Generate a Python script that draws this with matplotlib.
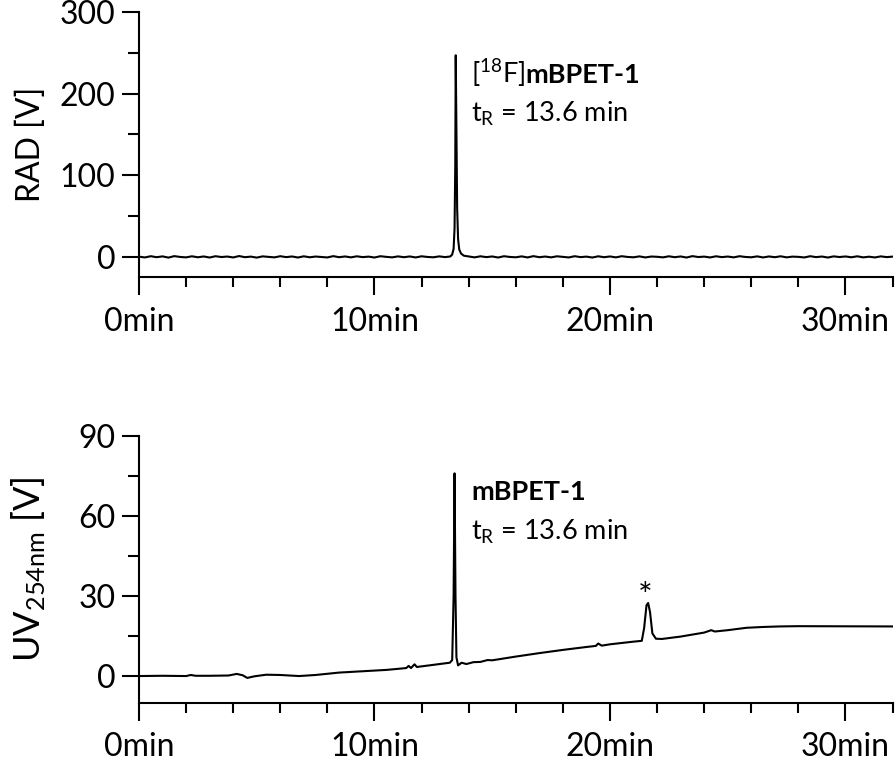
import matplotlib

matplotlib.use("Agg")
import matplotlib.pyplot as plt
from matplotlib.ticker import MultipleLocator, FixedLocator

plt.rcParams["font.family"] = ["Lato", "DejaVu Sans"]

# --- data ---
# radio trace (RAD, V) vs retention time (min)
rad_time = [
    0.0, 0.25, 0.5, 0.75, 1.0, 1.25, 1.5, 1.75, 2.0, 2.25, 2.5, 2.75, 3.0,
    3.25, 3.5, 3.75, 4.0, 4.25, 4.5, 4.75, 5.0, 5.25, 5.5, 5.75, 6.0, 6.25,
    6.5, 6.75, 7.0, 7.25, 7.5, 7.75, 8.0, 8.25, 8.5, 8.75, 9.0, 9.25, 9.5,
    9.75, 10.0, 10.25, 10.5, 10.75, 11.0, 11.25, 11.5, 11.75, 12.0, 12.25,
    12.5, 12.75, 13.0,
    13.22, 13.30, 13.36, 13.40, 13.43, 13.45, 13.48, 13.51, 13.55, 13.60,
    13.68, 13.80, 14.0,
    14.25, 14.5, 14.75, 15.0, 15.25, 15.5, 15.75, 16.0, 16.25, 16.5, 16.75,
    17.0, 17.25, 17.5, 17.75, 18.0, 18.25, 18.5, 18.75, 19.0, 19.25, 19.5,
    19.75, 20.0, 20.25, 20.5, 20.75, 21.0, 21.25, 21.5, 21.75, 22.0, 22.25,
    22.5, 22.75, 23.0, 23.25, 23.5, 23.75, 24.0, 24.25, 24.5, 24.75, 25.0,
    25.25, 25.5, 25.75, 26.0, 26.25, 26.5, 26.75, 27.0, 27.25, 27.5, 27.75,
    28.0, 28.25, 28.5, 28.75, 29.0, 29.25, 29.5, 29.75, 30.0, 30.25, 30.5,
    30.75, 31.0, 31.25, 31.5, 31.75, 32.0,
]
rad_signal = [
    0.4, -0.6, 0.9, -0.3, 0.7, -0.8, 1.0, 0.0, -0.5, 0.8, -0.4, 0.6, -0.7,
    0.9, -0.1, 0.5, -0.6, 1.1, -0.3, 0.4, -0.8, 0.7, 0.1, -0.5, 0.9, -0.2,
    0.6, -0.7, 0.8, -0.4, 0.5, 0.0, -0.6, 1.0, -0.3, 0.6, -0.5, 0.8, -0.2,
    0.4, -0.7, 0.9, 0.1, -0.5, 0.7, -0.3, 0.6, -0.6, 0.8, 0.0, -0.4, 0.7,
    -0.2,
    0.6, 3.0, 10.0, 35.0, 110.0, 247.0, 150.0, 60.0, 22.0, 9.0,
    4.0, 1.5, 0.6,
    -0.5, 0.8, -0.2, 0.6, -0.7, 0.9, 0.0, -0.4, 0.7, -0.6, 1.0, -0.3, 0.5,
    -0.5, 0.8, 0.1, -0.6, 0.9, -0.2, 0.4, -0.7, 0.8, -0.3, 0.6, -0.5, 0.9,
    0.0, -0.4, 0.7, -0.6, 0.5, 0.2, -0.5, 0.8, -0.3, 0.6, -0.7, 1.0, -0.1,
    0.4, -0.6, 0.8, -0.2, 0.5, -0.5, 0.9, 0.0, -0.4, 0.7, -0.6, 0.6, -0.3,
    0.8, -0.5, 0.4, 0.1, -0.6, 0.9, -0.2, 0.5, -0.7, 0.7, -0.1, 0.6, -0.4,
    0.8, -0.5, 0.3, -0.6, 0.7, -0.2, 0.4,
]

# UV trace at 254 nm (V) vs retention time (min)
uv_time = [
    0.0, 1.0, 2.0, 2.2, 2.4, 3.0, 3.8, 4.15, 4.4, 4.6, 4.9, 5.4, 6.0, 6.8,
    7.5, 8.5, 9.5, 10.5, 11.0, 11.35, 11.45, 11.55, 11.7, 11.8, 12.5, 13.2,
    13.3, 13.36, 13.40, 13.44, 13.48, 13.55, 13.7, 13.9, 14.2, 14.5, 14.8,
    15.0, 16.0, 17.0, 18.0, 19.0, 19.4, 19.5, 19.65, 20.0, 21.0, 21.35,
    21.45, 21.55, 21.62, 21.7, 21.8, 21.95, 22.2, 23.0, 24.0, 24.3, 24.45,
    25.0, 25.8, 26.5, 27.2, 28.0, 32.0,
]
uv_signal = [
    0.0, 0.1, 0.0, 0.4, 0.1, 0.1, 0.2, 0.8, 0.3, -0.7, -0.1, 0.5, 0.4, 0.0,
    0.4, 1.3, 1.8, 2.3, 2.7, 3.0, 3.8, 3.0, 4.4, 3.4, 4.2, 5.0,
    6.0, 30.0, 76.0, 30.0, 7.0, 4.0, 5.0, 4.5, 5.2, 5.3, 6.0,
    5.9, 7.3, 8.6, 9.8, 10.9, 11.3, 12.2, 11.4, 11.9, 12.9, 13.2,
    18.0, 26.5, 27.4, 24.0, 16.0, 14.0, 13.9, 14.8, 16.3, 17.2, 16.7,
    17.2, 18.1, 18.4, 18.6, 18.7, 18.6,
]

x_major = [0, 10, 20, 30]
x_labels = ["0min", "10min", "20min", "30min"]
rad_ticks = [0, 100, 200, 300]
uv_ticks = [0, 30, 60, 90]

TICK_SIZE = 23
LABEL_SIZE = 23
NOTE_SIZE = 19.5
LW = 1.5


def style_axis(ax, y_major, y_minor, y_limits):
    ax.set_xlim(0, 32)
    ax.set_ylim(*y_limits)
    for side in ("top", "right"):
        ax.spines[side].set_visible(False)
    for side in ("left", "bottom"):
        ax.spines[side].set_linewidth(LW)
    ax.set_xticks(x_major)
    ax.set_xticklabels(x_labels)
    ax.xaxis.set_minor_locator(MultipleLocator(2))
    ax.set_yticks(y_major)
    ax.yaxis.set_minor_locator(FixedLocator(y_minor))
    ax.tick_params(axis="x", which="major", length=13, width=LW, pad=8,
                   labelsize=TICK_SIZE)
    ax.tick_params(axis="x", which="minor", length=7.5, width=LW)
    ax.tick_params(axis="y", which="major", length=12, width=LW, pad=5,
                   labelsize=TICK_SIZE)
    ax.tick_params(axis="y", which="minor", length=8, width=LW)


fig = plt.figure(figsize=(8.96, 7.62), dpi=100)
ax_rad = fig.add_axes([0.1551, 0.636, 0.8411, 0.3483])
ax_uv = fig.add_axes([0.1551, 0.0778, 0.8411, 0.350])

# top panel: radio detector
ax_rad.plot(rad_time, rad_signal, color="black", lw=LW)
style_axis(ax_rad, rad_ticks, [50, 150, 250], (-25, 300))
ax_rad.text(-0.144, 0.5, "RAD [V]", transform=ax_rad.transAxes, rotation=90,
            ha="center", va="center", fontsize=LABEL_SIZE)
t1 = ax_rad.text(14.1, 213, r"[$\mathregular{^{18}}$F]", fontsize=NOTE_SIZE,
                 ha="left", va="baseline")
ax_rad.annotate("mBPET-1", xy=(1, 213), xycoords=(t1, "data"),
                fontsize=NOTE_SIZE, fontweight="bold", ha="left", va="baseline")
ax_rad.text(14.1, 165, r"t$\mathregular{_R}$ = 13.6 min", fontsize=NOTE_SIZE,
            ha="left", va="baseline")

# bottom panel: UV detector
ax_uv.plot(uv_time, uv_signal, color="black", lw=LW)
style_axis(ax_uv, uv_ticks, [15, 45, 75], (-10, 90))
ax_uv.text(-0.146, 0.5, r"UV$\mathregular{_{254nm}}$ [V]",
           transform=ax_uv.transAxes, rotation=90, ha="center", va="center",
           fontsize=26)
ax_uv.text(14.1, 66, "mBPET-1", fontsize=NOTE_SIZE, fontweight="bold",
           ha="left", va="baseline")
ax_uv.text(14.1, 51, r"t$\mathregular{_R}$ = 13.6 min", fontsize=NOTE_SIZE,
           ha="left", va="baseline")
ax_uv.text(21.5, 29.5, "*", fontsize=25, ha="center", va="center")

fig.savefig("out.png", dpi=100)
